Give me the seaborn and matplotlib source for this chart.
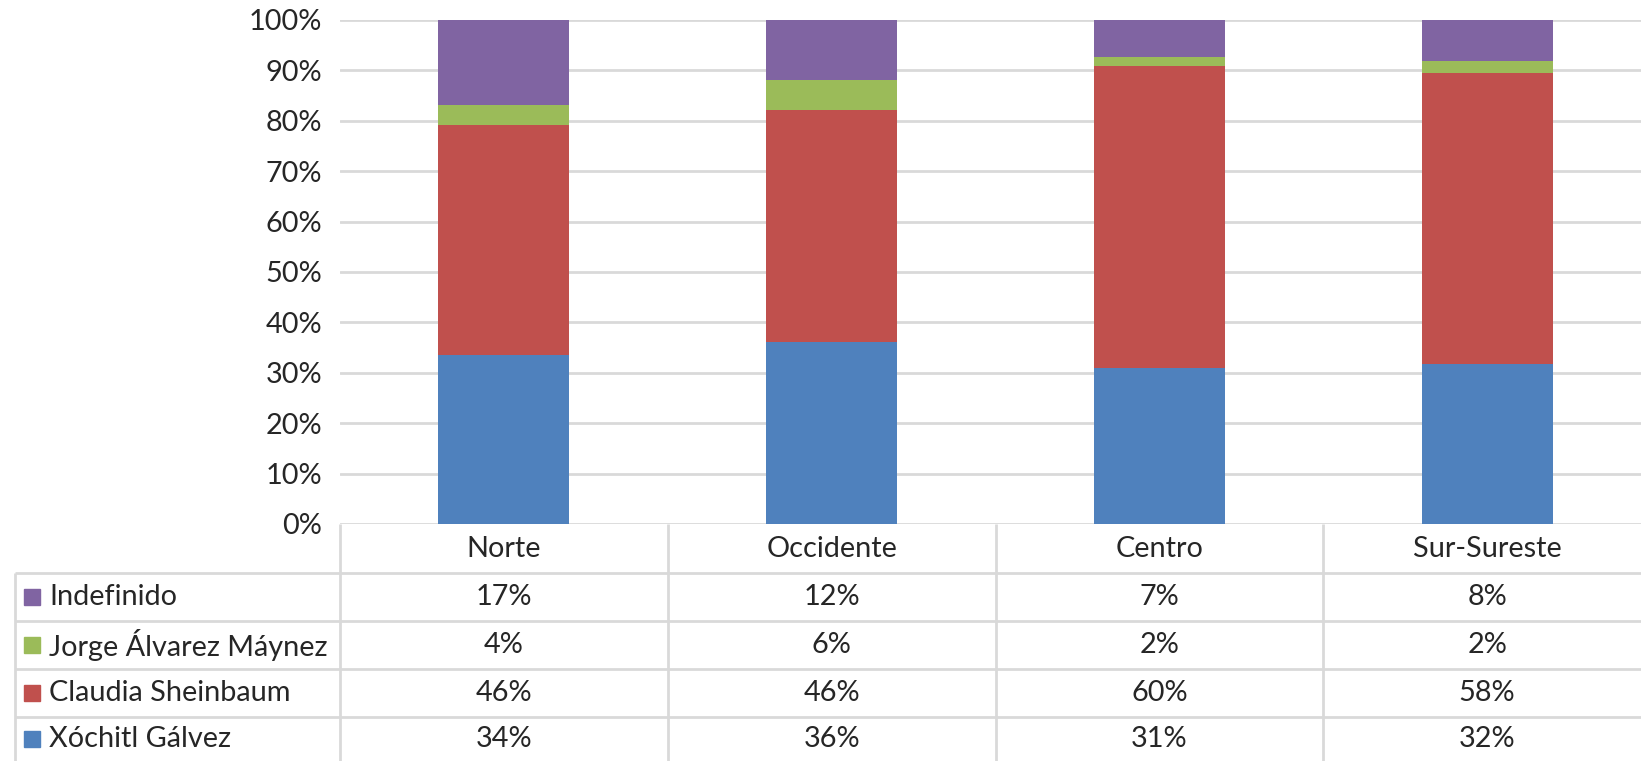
import numpy as np
import pandas as pd
import matplotlib
matplotlib.use("Agg")
import matplotlib.pyplot as plt
import seaborn as sns

regions = ["Norte", "Occidente", "Centro", "Sur-Sureste"]
xochitl = [33.6, 36.1, 30.9, 31.8]
claudia = [45.6, 46.1, 60.0, 57.7]
jorge = [3.9, 5.8, 1.7, 2.4]
indefinido = [16.9, 12.0, 7.4, 8.1]

series_names = ["Xóchitl Gálvez", "Claudia Sheinbaum", "Jorge Álvarez Máynez", "Indefinido"]
colors = ["#4F81BD", "#C0504D", "#9BBB59", "#8064A2"]
yticks = [0, 10, 20, 30, 40, 50, 60, 70, 80, 90, 100]

sns.set_theme(style="white")
plt.rcParams['font.family'] = ['Lato', 'DejaVu Sans']
FS = 20.8
GRID = "#d9d9d9"

df = pd.DataFrame(dict(zip(series_names, [xochitl, claudia, jorge, indefinido])), index=regions)
pct = df.div(df.sum(axis=1), axis=0) * 100
cum = pct.cumsum(axis=1)

W, H = 1641, 761
fig = plt.figure(figsize=(W / 100, H / 100), dpi=100)
ax = fig.add_axes([340 / W, (H - 524) / H, 1311 / W, (524 - 20) / H])

# 100% stacked: draw cumulative totals from the top series down
for name, col in reversed(list(zip(series_names, colors))):
    sns.barplot(x=regions, y=cum[name].values, color=col, width=0.4,
                saturation=1, linewidth=0, ax=ax, zorder=3)

ax.set_ylim(0, 100)
ax.set_yticks(yticks)
ax.set_yticklabels([f"{t}%" for t in yticks], fontsize=FS)
ax.set_xticks([])
ax.set_xlabel("")
ax.set_ylabel("")
ax.tick_params(axis="y", length=0, pad=13)
ax.grid(axis="y", color=GRID, linewidth=2, zorder=0)
for s in ax.spines.values():
    s.set_visible(False)

# data table under the chart
tab = fig.add_axes([0, 0, 1, 1], zorder=-1)
tab.set_xlim(0, W)
tab.set_ylim(H, 0)
tab.axis("off")

col_w = 1311 / 4
col_edges = [340 + k * col_w for k in range(4)]
row_lines = [573, 621, 669, 717]
for y in row_lines:
    tab.plot([15, W], [y, y], color=GRID, lw=2, solid_capstyle="butt")
for x in col_edges:
    tab.plot([x, x], [524, H], color=GRID, lw=2, solid_capstyle="butt")
tab.plot([15, 15], [573, H], color=GRID, lw=2, solid_capstyle="butt")

for i, r in enumerate(regions):
    tab.text(col_edges[i] + col_w / 2, 549, r, ha="center", va="center", fontsize=FS)

row_centers = [597, 645, 693, 739]
for j, name in enumerate(reversed(series_names)):
    yc = row_centers[j]
    col = colors[series_names.index(name)]
    tab.add_patch(plt.Rectangle((24, yc - 8), 16, 16, color=col))
    tab.text(49, yc, name, ha="left", va="center", fontsize=FS)
    for i, r in enumerate(regions):
        tab.text(col_edges[i] + col_w / 2, yc, f"{pct.loc[r, name]:.0f}%",
                 ha="center", va="center", fontsize=FS)

fig.savefig("out.png", dpi=100)
